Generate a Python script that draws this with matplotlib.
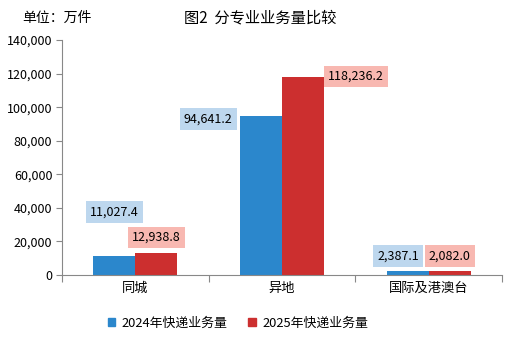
import numpy as np
import matplotlib
matplotlib.use("Agg")
import matplotlib.pyplot as plt
from matplotlib.patches import Patch

plt.rcParams['font.family'] = ['Noto Sans CJK SC', 'DejaVu Sans']

categories = ['同城', '异地', '国际及港澳台']
vals_2024 = [11027.4, 94641.2, 2387.1]
vals_2025 = [12938.8, 118236.2, 2082.0]
series_names = ['2024年快递业务量', '2025年快递业务量']

blue = '#2b87cc'
red = '#cc2f2f'
blue_bg = '#bdd7ee'
red_bg = '#f8b8b1'

fig = plt.figure(figsize=(5.14, 3.42), dpi=100)
ax = fig.add_axes([0.1206, 0.196, 0.856, 0.687])

x = np.arange(len(categories))
w = 0.286
ax.bar(x - w / 2, vals_2024, w, color=blue)
ax.bar(x + w / 2, vals_2025, w, color=red)

# label positions (offsets in data units, hand-placed like the original)
lab_pos_24 = [(x[0] - w / 2, 37500), (x[1] - w / 2 - 0.36, 93000), (x[2] - w / 2 - 0.065, 11300)]
lab_pos_25 = [(x[0] + w / 2, 22500), (x[1] + w / 2 + 0.36, 118236.2), (x[2] + w / 2 + 0.0, 11300)]
for v, (px, py) in zip(vals_2024, lab_pos_24):
    ax.text(px, py, f'{v:,.1f}', ha='center', va='center', fontsize=9,
            bbox=dict(boxstyle='square,pad=0.33', fc=blue_bg, ec='none'))
for v, (px, py) in zip(vals_2025, lab_pos_25):
    ax.text(px, py, f'{v:,.1f}', ha='center', va='center', fontsize=9,
            bbox=dict(boxstyle='square,pad=0.33', fc=red_bg, ec='none'))

ax.set_xlim(-0.5, 2.5)
ax.set_ylim(0, 140000)
ax.set_yticks(np.arange(0, 140001, 20000))
ax.yaxis.set_major_formatter(matplotlib.ticker.FuncFormatter(lambda v, p: f'{int(v):,}'))
ax.set_xticks([-0.5, 0.5, 1.5, 2.5])
ax.set_xticklabels([])
ax.set_xticks(x, minor=True)
ax.set_xticklabels(categories, minor=True)
ax.tick_params(axis='x', which='minor', length=0, pad=5, labelsize=9.5)
ax.tick_params(axis='x', which='major', length=5, color='#888888')
ax.tick_params(axis='y', length=4, color='#888888', labelsize=9, pad=3)
for s in ['top', 'right']:
    ax.spines[s].set_visible(False)
for s in ['left', 'bottom']:
    ax.spines[s].set_color('#888888')

fig.text(0.506, 0.948, '图2  分专业业务量比较', ha='center', va='center', fontsize=11)
fig.text(0.043, 0.948, '单位：万件', ha='left', va='center', fontsize=10)

handles = [Patch(color=blue), Patch(color=red)]
fig.legend(handles, series_names, loc='center', bbox_to_anchor=(0.463, 0.055), ncol=2,
           frameon=False, fontsize=9.3, handlelength=0.6, handleheight=0.6,
           handletextpad=0.5, columnspacing=1.6)

fig.savefig('out.png', dpi=100)
